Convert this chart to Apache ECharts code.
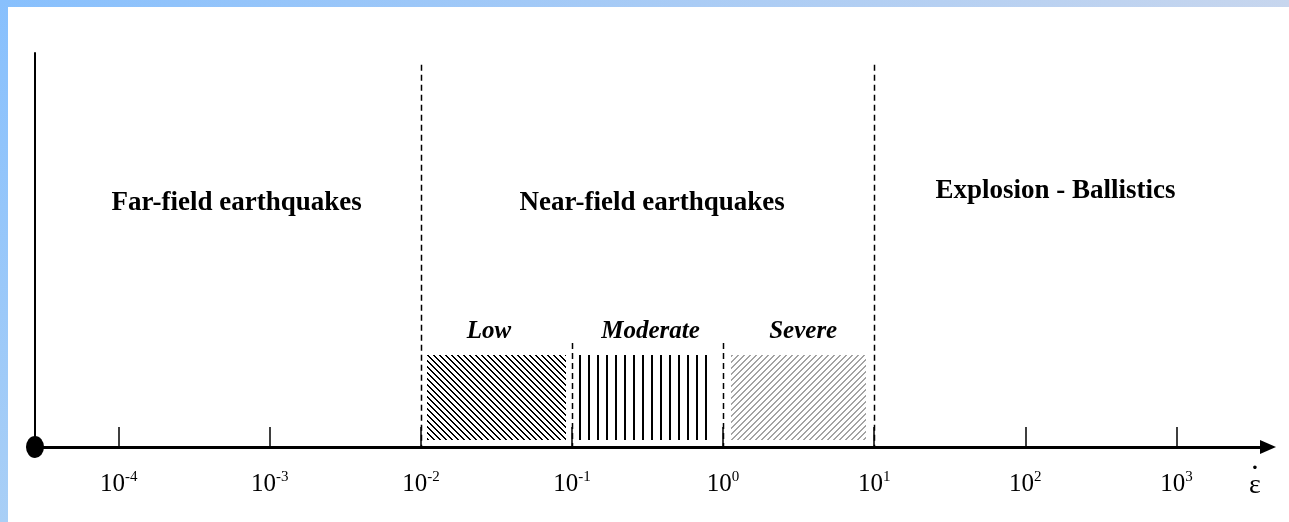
<!DOCTYPE html>
<html>
<head>
<meta charset="utf-8">
<script src="https://cdn.jsdelivr.net/npm/echarts@6/dist/echarts.min.js"></script>
<style>
  html, body { margin: 0; padding: 0; background: #ffffff; }
  #chart { width: 1289px; height: 522px; }
</style>
</head>
<body>
<div id="chart"></div>
<script>
// Strain-rate scale; x values are log10 of the strain rate (1/s)
const tickExponents = [-4, -3, -2, -1, 0, 1, 2, 3];

// Loading regimes along the scale
const regionNames = ['Far-field earthquakes', 'Near-field earthquakes', 'Explosion - Ballistics'];
const regionLabelX = [-3.22, -0.47, 2.2];
const regionLabelY = [0.62, 0.62, 0.65];
const regionBounds = [-2, 1];          // full-height dashed boundaries
const regionBoundTop = 0.97;

// Near-field severity bands
const severityNames = ['Low', 'Moderate', 'Severe'];
const severityBounds = [-1, 0];        // short dashed boundaries
const severityBoundTop = 0.264;
const severityStart = [-1.96, -0.954, 0.049];
const severityEnd = [-1.04, -0.118, 0.944];
const severityLabelX = [-1.55, -0.48, 0.53];
const severityLabelY = 0.292;
const bandBottom = 0.018;
const bandTop = 0.2335;

const X_MIN = -4.554;
const X_MAX = 3.606;

const SERIF = '"Liberation Serif", "Times New Roman", serif';

// Hatch tiles: dir > 0 gives "/" lines, dir < 0 gives "\" lines
function hatchTile(period, thick, color, dir) {
  const c = document.createElement('canvas');
  c.width = period; c.height = period;
  const ctx = c.getContext('2d');
  ctx.fillStyle = color;
  for (let y = 0; y < period; y++) {
    for (let x = 0; x < period; x++) {
      const d = dir > 0 ? x + y : x - y;
      if (((d % period) + period) % period < thick) ctx.fillRect(x, y, 1, 1);
    }
  }
  return c;
}
const lowTile = hatchTile(6, 2, '#000000', -1);
const severeTile = hatchTile(6, 2, '#a3a3a3', 1);

const chart = echarts.init(document.getElementById('chart'), null, { renderer: 'canvas' });

const bandData = severityNames.map((n, i) => [severityStart[i], severityEnd[i], bandBottom, bandTop, i]);
const boundData = regionBounds.map(x => [x, regionBoundTop])
  .concat(severityBounds.map(x => [x, severityBoundTop]));
const textData = regionNames.map((n, i) => [regionLabelX[i], regionLabelY[i], n, 0])
  .concat(severityNames.map((n, i) => [severityLabelX[i], severityLabelY, n, 1]));

const option = {
  backgroundColor: '#ffffff',
  animation: false,
  grid: { left: 35, right: 21, top: 53, bottom: 75, containLabel: false },
  xAxis: {
    type: 'value',
    min: X_MIN,
    max: X_MAX,
    name: '{d|·}\n{e|ε}',
    nameLocation: 'end',
    nameGap: -13,
    nameTextStyle: {
      align: 'center', verticalAlign: 'top', padding: [16, 0, 0, 0],
      rich: {
        d: { fontFamily: SERIF, fontSize: 22, fontWeight: 'bold', color: '#000', lineHeight: 10, align: 'center' },
        e: { fontFamily: SERIF, fontSize: 28, color: '#000', lineHeight: 26, align: 'center' }
      }
    },
    axisLine: {
      show: true,
      onZero: true,
      lineStyle: { color: '#000', width: 3 },
      symbol: ['none', 'triangle'],
      symbolSize: [14, 16]
    },
    axisTick: {
      show: true, inside: true, length: 20,
      customValues: tickExponents,
      lineStyle: { color: '#000', width: 1.5 }
    },
    axisLabel: {
      show: true,
      customValues: tickExponents,
      margin: 23,
      formatter: v => '{b|10}{s|' + v + '}',
      rich: {
        b: { fontFamily: SERIF, fontSize: 25, color: '#000', lineHeight: 28 },
        s: { fontFamily: SERIF, fontSize: 15, color: '#000', lineHeight: 14, verticalAlign: 'top' }
      }
    },
    splitLine: { show: false }
  },
  yAxis: {
    type: 'value',
    min: 0,
    max: 1,
    axisLine: { show: true, onZero: false, lineStyle: { color: '#000', width: 2 } },
    axisTick: { show: false },
    axisLabel: { show: false },
    splitLine: { show: false }
  },
  graphic: [
    {
      type: 'rect', z: 100, silent: true,
      shape: { x: 0, y: 0, width: 1289, height: 7 },
      style: { fill: new echarts.graphic.LinearGradient(0, 0, 1, 0, [
        { offset: 0, color: '#88c0fd' }, { offset: 1, color: '#c7d6ee' }]) }
    },
    {
      type: 'rect', z: 100, silent: true,
      shape: { x: 0, y: 0, width: 8, height: 522 },
      style: { fill: new echarts.graphic.LinearGradient(0, 0, 0, 1, [
        { offset: 0, color: '#88c0fd' }, { offset: 1, color: '#a9cff6' }]) }
    }
  ],
  series: [
    {
      // dashed regime boundaries
      type: 'custom',
      data: boundData,
      silent: true,
      z: 2,
      renderItem: (params, api) => {
        const top = api.coord([api.value(0), api.value(1)]);
        const bot = api.coord([api.value(0), 0]);
        return {
          type: 'line',
          shape: { x1: Math.round(top[0]) + 0.5, y1: top[1], x2: Math.round(bot[0]) + 0.5, y2: bot[1] },
          style: { stroke: '#000', lineWidth: 1.5, lineDash: [6, 4] }
        };
      }
    },
    {
      // hatched severity bands
      type: 'custom',
      data: bandData,
      silent: true,
      z: 3,
      renderItem: (params, api) => {
        const tl = api.coord([api.value(0), api.value(3)]);
        const br = api.coord([api.value(1), api.value(2)]);
        const kind = api.value(4);
        const w = br[0] - tl[0];
        const h = br[1] - tl[1];
        if (kind === 1) {
          const n = Math.round(w / 9) + 1;
          const step = w / (n - 1);
          const children = [];
          for (let k = 0; k < n; k++) {
            const x = Math.round(tl[0] + k * step) + 1;
            children.push({
              type: 'line',
              shape: { x1: x, y1: tl[1], x2: x, y2: br[1] },
              style: { stroke: '#000', lineWidth: 2 }
            });
          }
          return { type: 'group', children };
        }
        return {
          type: 'rect',
          shape: { x: Math.round(tl[0]), y: Math.round(tl[1]), width: Math.round(w), height: Math.round(h) },
          style: { fill: { image: kind === 0 ? lowTile : severeTile, repeat: 'repeat' } }
        };
      }
    },
    {
      // regime and severity labels
      type: 'custom',
      data: textData,
      silent: true,
      z: 4,
      renderItem: (params, api) => {
        const p = api.coord([api.value(0), api.value(1)]);
        const item = textData[params.dataIndex];
        return {
          type: 'text',
          x: p[0], y: p[1],
          style: {
            text: item[2],
            fill: '#000',
            font: (item[3] === 1 ? 'italic bold 25px ' : 'bold 27px ') + SERIF,
            textAlign: 'center',
            textVerticalAlign: 'middle'
          }
        };
      }
    },
    {
      // origin marker
      type: 'scatter',
      data: [[X_MIN, 0]],
      symbol: 'circle',
      symbolSize: [18, 22],
      itemStyle: { color: '#000', opacity: 1 },
      clip: false,
      silent: true,
      z: 5
    }
  ]
};

chart.setOption(option);
</script>
</body>
</html>
